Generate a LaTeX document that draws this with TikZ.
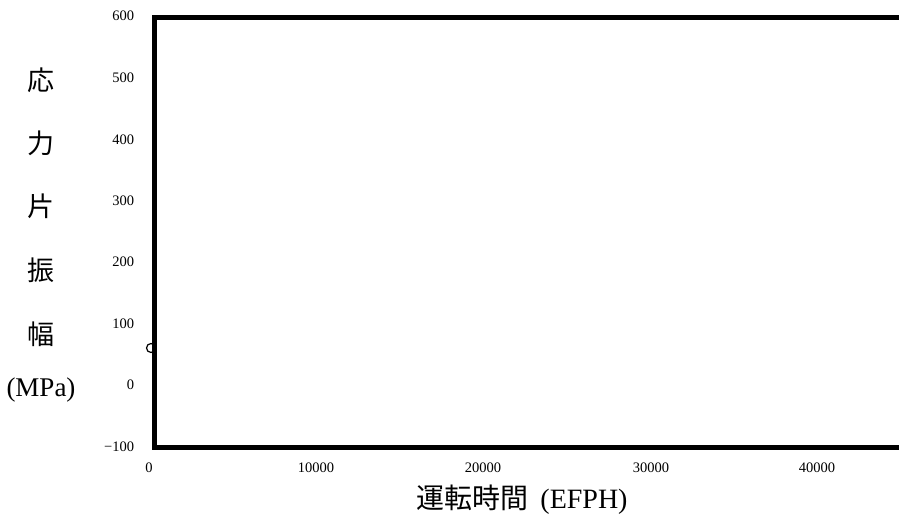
\documentclass[tikz,border=0pt]{standalone}
\usepackage{fontspec}
\setmainfont{Liberation Serif}
\newfontfamily\cjk{Noto Sans CJK JP}
\begin{document}
\begin{tikzpicture}[x=1pt,y=1pt]
\definecolor{fillColor}{RGB}{255,255,255}
\definecolor{drawColor}{RGB}{0,0,0}
\tikzset{
  ticklab/.style={text=drawColor,inner sep=0pt,outer sep=0pt,font=\fontsize{14.5}{14.5}\selectfont},
  ylab/.style={text=drawColor,inner sep=0pt,outer sep=0pt,font=\fontsize{27}{27}\selectfont\cjk},
  frameline/.style={draw=drawColor,line width=5pt,line join=miter}
}
\path[use as bounding box,fill=fillColor] (0,0) rectangle (899,522);
\begin{scope}
\path[clip] (0,0) rectangle (899,522);

% data point
\path[draw=drawColor,line width=1.2pt,fill=fillColor] (151,174) circle (4.5);

% plot frame
\path[frameline] (920,504) -- (154.5,504) -- (154.5,74) -- (920,74);

% y tick labels
\node[ticklab,anchor=east] (y600) at (134,506) {600};
\node[ticklab,anchor=east] (y500) at (134,444) {500};
\node[ticklab,anchor=east] (y400) at (134,382) {400};
\node[ticklab,anchor=east] (y300) at (134,321) {300};
\node[ticklab,anchor=east] (y200) at (134,260) {200};
\node[ticklab,anchor=east] (y100) at (134,198) {100};
\node[ticklab,anchor=east] (y0) at (134,137) {0};
\node[ticklab,anchor=east] (ym100) at (134,75) {−100};

% x tick labels
\node[ticklab,anchor=base] (x0) at (149,50) {0};
\node[ticklab,anchor=base] (x10000) at (316,50) {10000};
\node[ticklab,anchor=base] (x20000) at (483,50) {20000};
\node[ticklab,anchor=base] (x30000) at (651,50) {30000};
\node[ticklab,anchor=base] (x40000) at (817,50) {40000};

% axis titles
\node[ylab] (yt1) at (41,442) {応};
\node[ylab] (yt2) at (41,379) {力};
\node[ylab] (yt3) at (41,316) {片};
\node[ylab] (yt4) at (41,252) {振};
\node[ylab] (yt5) at (41,188) {幅};
\node[text=drawColor,inner sep=0pt,outer sep=0pt,font=\fontsize{27}{27}\selectfont] (yt6) at (41,132) {(MPa)};
\node[text=drawColor,inner sep=0pt,outer sep=0pt,font=\fontsize{28}{28}\selectfont] (xt) at (522,22) {{\cjk 運転時間}\hspace{12pt}(EFPH)};
\end{scope}
\end{tikzpicture}
\end{document}
